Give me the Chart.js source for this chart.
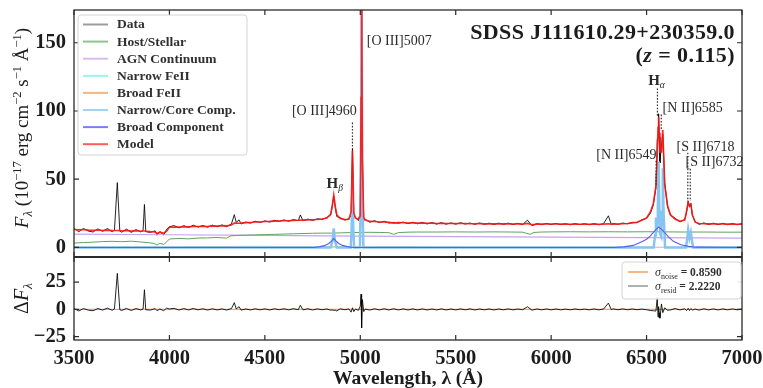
<!DOCTYPE html>
<html>
<head>
<meta charset="utf-8">
<script src="https://cdn.jsdelivr.net/npm/chart.js@4.4.0/dist/chart.umd.min.js"></script>
<style>
    html, body { margin: 0; padding: 0; background: #fff; }
    #spec { display: block; }
</style>
</head>
<body>
<canvas id="spec" width="763" height="388"></canvas>
<script>
// spectrum grid shared by data, model and residuals (Angstrom)
const specWave = [
    3500, 3525, 3550, 3575, 3600, 3625, 3650, 3675, 3700, 3712,
    3727, 3740, 3750, 3775, 3800, 3825, 3850, 3862, 3869, 3876,
    3900, 3925, 3935, 3950, 3970, 3985, 4000, 4025, 4050, 4075,
    4100, 4125, 4150, 4175, 4200, 4225, 4250, 4275, 4300, 4325,
    4340, 4350, 4365, 4375, 4400, 4425, 4450, 4475, 4500, 4525,
    4550, 4575, 4600, 4625, 4650, 4675, 4686, 4700, 4725, 4750,
    4775, 4800, 4825, 4845, 4853, 4861, 4869, 4877, 4895, 4920,
    4940, 4952, 4959, 4966, 4975, 4990, 5000, 5004, 5007, 5011,
    5018, 5025, 5050, 5075, 5100, 5125, 5150, 5175, 5200, 5225,
    5250, 5275, 5300, 5325, 5350, 5375, 5400, 5425, 5450, 5475,
    5500, 5525, 5550, 5575, 5600, 5625, 5650, 5675, 5700, 5725,
    5750, 5775, 5800, 5825, 5850, 5876, 5900, 5925, 5950, 5975,
    6000, 6025, 6050, 6075, 6100, 6125, 6150, 6175, 6200, 6225,
    6250, 6275, 6300, 6315, 6325, 6350, 6375, 6400, 6425, 6450,
    6475, 6500, 6520, 6535, 6549, 6556, 6560, 6563, 6566, 6570,
    6578, 6585, 6595, 6610, 6625, 6650, 6675, 6700, 6710, 6718,
    6725, 6732, 6740, 6755, 6775, 6800, 6825, 6850, 6875, 6900,
    6925, 6950, 6975, 7000
];

const fluxData = [
    14.0, 11.5, 13.9, 12.0, 11.3, 13.6, 11.8, 13.9, 11.5, 12.9,
    47.5, 12.0, 11.2, 13.4, 11.0, 13.1, 11.4, 12.5, 31.5, 11.6,
    11.0, 12.2, 9.0, 11.6, 9.2, 13.2, 15.2, 16.0, 14.3, 16.0,
    14.6, 16.3, 14.9, 16.1, 14.8, 16.4, 15.1, 16.5, 15.2, 17.3,
    24.0, 18.4, 20.2, 17.2, 18.6, 17.8, 19.2, 18.3, 19.5, 18.6,
    19.9, 19.1, 20.2, 19.2, 20.5, 19.6, 23.8, 19.6, 20.8, 19.8,
    21.0, 20.5, 21.9, 23.8, 30.0, 37.6, 29.2, 22.6, 21.8, 20.1,
    21.1, 23.5, 72.5, 23.5, 21.9, 19.7, 26.0, 124, 181, 71,
    20.0, 20.6, 18.5, 19.6, 18.2, 19.2, 17.9, 18.4, 17.7, 18.6,
    17.4, 18.5, 17.3, 18.4, 17.2, 18.2, 17.1, 18.2, 17.0, 18.0,
    17.0, 18.1, 17.1, 17.9, 16.9, 17.9, 16.9, 17.8, 16.8, 17.8,
    16.9, 17.8, 16.8, 17.7, 16.8, 20.0, 15.9, 17.5, 16.7, 17.6,
    16.8, 17.6, 16.7, 17.4, 16.6, 17.5, 16.7, 17.4, 16.6, 17.5,
    16.6, 17.5, 23.2, 16.9, 17.6, 16.9, 17.9, 17.3, 18.4, 18.1,
    20.3, 21.3, 25.0, 31.0, 43.5, 79.0, 81.0, 98.0, 81.0, 62.0,
    75.0, 83.0, 47.5, 29.7, 23.5, 21.4, 18.7, 20.6, 26.0, 34.0,
    29.5, 32.3, 23.4, 18.8, 16.9, 18.0, 16.8, 17.8, 16.7, 17.7,
    16.7, 17.6, 16.6, 17.5
];

const fluxModel = [
    13.2, 12.9, 13.1, 12.7, 12.5, 12.8, 12.4, 12.7, 12.3, 12.4,
    12.4, 12.3, 12.1, 12.5, 12.0, 12.3, 11.9, 12.1, 12.0, 11.9,
    11.6, 11.4, 10.2, 11.2, 10.4, 12.0, 14.8, 15.0, 14.9, 15.2,
    15.1, 15.4, 15.3, 15.5, 15.4, 15.8, 15.6, 16.0, 15.8, 16.5,
    17.8, 17.9, 17.7, 17.8, 18.2, 18.3, 18.6, 18.7, 19.0, 19.1,
    19.3, 19.4, 19.6, 19.6, 19.8, 19.9, 20.0, 20.0, 20.2, 20.3,
    20.5, 20.8, 21.5, 24.5, 30.5, 38.5, 30.0, 24.0, 21.2, 20.4,
    20.6, 26.0, 71.0, 25.5, 21.5, 20.6, 23.0, 110, 198, 62,
    22.0, 20.3, 19.1, 19.0, 18.7, 18.6, 18.4, 17.8, 18.2, 18.1,
    17.9, 18.0, 17.8, 17.9, 17.7, 17.8, 17.6, 17.7, 17.5, 17.6,
    17.5, 17.6, 17.5, 17.4, 17.4, 17.5, 17.3, 17.4, 17.3, 17.4,
    17.3, 17.3, 17.2, 17.3, 17.1, 17.6, 16.6, 17.1, 17.1, 17.2,
    17.2, 17.2, 17.1, 17.1, 17.0, 17.1, 17.0, 17.1, 17.0, 17.1,
    17.0, 17.1, 17.4, 17.1, 17.1, 17.2, 17.4, 17.6, 18.0, 18.4,
    20.0, 21.6, 26.0, 32.0, 45.0, 68.0, 88.0, 95.5, 84.0, 70.0,
    70.0, 86.0, 46.0, 30.5, 24.0, 20.6, 19.2, 20.0, 27.0, 33.0,
    30.5, 31.5, 24.0, 18.5, 17.6, 17.4, 17.3, 17.3, 17.2, 17.2,
    17.1, 17.1, 17.0, 17.1
];

const fluxResid = [
    0.8, -1.4, 0.8, -0.7, -1.2, 0.8, -0.6, 1.2, -0.8, 0.5,
    33, -0.3, -0.9, 0.9, -1.0, 0.8, -0.5, 0.4, 18, -0.3,
    -0.6, 0.8, -1.2, 0.4, -1.2, 1.2, 0.4, 1.0, -0.6, 0.8,
    -0.5, 0.9, -0.4, 0.6, -0.6, 0.6, -0.5, 0.5, -0.6, 0.8,
    6.2, 0.5, 2.5, -0.6, 0.4, -0.5, 0.6, -0.4, 0.5, -0.5,
    0.6, -0.3, 0.6, -0.4, 0.7, -0.3, 3.8, -0.4, 0.6, -0.5,
    0.5, -0.3, 0.4, -0.7, -0.5, -0.9, -0.8, -1.4, 0.6, -0.3,
    0.5, -2.5, 1.5, -2.0, 0.4, -0.9, 3.0, 14, -17, 9,
    -2.0, 0.3, -0.6, 0.6, -0.5, 0.6, -0.5, 0.6, -0.5, 0.5,
    -0.5, 0.5, -0.5, 0.5, -0.5, 0.4, -0.5, 0.5, -0.5, 0.4,
    -0.5, 0.5, -0.4, 0.5, -0.5, 0.4, -0.4, 0.4, -0.5, 0.4,
    -0.4, 0.5, -0.4, 0.4, -0.3, 2.4, -0.7, 0.4, -0.4, 0.4,
    -0.4, 0.4, -0.4, 0.3, -0.4, 0.4, -0.3, 0.3, -0.4, 0.4,
    -0.4, 0.4, 5.8, -0.2, 0.5, -0.3, 0.5, -0.3, 0.4, -0.3,
    0.3, -0.3, -1.0, -1.2, -1.5, 11, -7, 2.5, -3, -8,
    5, -3, 1.5, -0.8, -0.5, 0.8, -0.5, 0.6, -1.0, 1.0,
    -1.0, 0.8, -0.6, 0.3, -0.7, 0.6, -0.5, 0.5, -0.5, 0.5,
    -0.4, 0.5, -0.4, 0.4
];

// host galaxy template
const hostWave = [
    3500, 3550, 3600, 3650, 3700, 3750, 3800, 3850, 3890, 3920,
    3935, 3950, 3970, 3985, 4000, 4050, 4100, 4150, 4200, 4250,
    4300, 4320, 4350, 4400, 4450, 4500, 4550, 4600, 4650, 4700,
    4750, 4800, 4850, 4900, 4950, 5000, 5050, 5100, 5150, 5175,
    5200, 5250, 5300, 5400, 5500, 5600, 5700, 5800, 5850, 5890,
    5910, 5950, 6000, 6100, 6200, 6300, 6400, 6500, 6600, 6700,
    6800, 6900, 7000
];
const hostFlux = [
    3.2, 3.6, 3.9, 4.3, 4.5, 4.2, 4.6, 4.0, 3.5, 2.9,
    1.8, 3.0, 2.2, 4.0, 6.2, 6.6, 6.3, 6.9, 7.0, 7.3,
    6.8, 8.5, 8.8, 9.0, 9.2, 9.4, 9.6, 9.8, 10.0, 10.2,
    10.4, 10.5, 10.5, 10.7, 10.9, 11.0, 11.1, 11.0, 10.8, 9.6,
    10.9, 11.2, 11.3, 11.3, 11.4, 11.3, 11.4, 11.3, 11.2, 9.6,
    11.0, 11.3, 11.4, 11.5, 11.4, 11.5, 11.4, 11.5, 11.4, 11.3,
    11.3, 11.2, 11.2
];

// power-law continuum
const agnWave = [3500, 4000, 4500, 5000, 5500, 6000, 6500, 7000];
const agnFlux = [9.8, 9.3, 8.8, 8.3, 7.9, 7.5, 7.2, 6.9];

const feNarrowWave = [3500, 4200, 4400, 4600, 4900, 5200, 5300, 5500, 7000];
const feNarrowFlux = [0, 0.1, 0.2, 0.2, 0.1, 0.2, 0.1, 0, 0];

const feBroadWave = [3500, 4000, 4200, 4400, 4550, 4700, 5000, 5200, 5300, 5500, 6000, 7000];
const feBroadFlux = [0.2, 0.4, 0.6, 0.8, 0.7, 0.5, 0.4, 0.6, 0.5, 0.3, 0.2, 0.1];

const narrowWave = [
    3500, 4845, 4855, 4861, 4867, 4877, 4950, 4955, 4959, 4963,
    4968, 4998, 5003, 5007, 5011, 5016, 6537, 6545, 6549, 6553,
    6556, 6559, 6563, 6567, 6571, 6577, 6581, 6585, 6589, 6597,
    6706, 6712, 6718, 6725, 6732, 6738, 6744, 7000
];
const narrowFlux = [
    0, 0, 5, 14, 5, 0, 0, 15, 50, 15,
    0, 0, 40, 178, 40, 0, 0, 9, 22, 12,
    18, 30, 63, 30, 10, 8, 26, 58, 26, 0,
    0, 5, 13, 7, 11, 5, 0, 0
];

const broadWave = [
    3500, 4760, 4790, 4815, 4835, 4850, 4861, 4872, 4887, 4907,
    4932, 4960, 6330, 6380, 6430, 6460, 6480, 6500, 6520, 6545,
    6563, 6585, 6610, 6640, 6680, 6720, 6760, 7000
];
const broadFlux = [
    0, 0, 0.6, 1.5, 2.9, 4.8, 6.5, 4.8, 2.9, 1.5,
    0.6, 0, 0, 0.4, 1.5, 3.2, 4.5, 6.0, 8.5, 12.5,
    15.0, 12.5, 8.5, 4.5, 2.0, 0.8, 0.2, 0
];

const noiseWave = [3500, 7000];
const noiseFlux = [0, 0];
const sigmaNames = ['noise', 'resid'];
const sigmaValues = ['0.8590', '2.2220'];

// emission line markers: label anchor, dotted guide
const lineNames = ['[O III]5007', '[O III]4960', 'H', 'H', '[N II]6585', '[N II]6549', '[S II]6718', '[S II]6732'];
const lineSubs = ['', '', '\u03b2', '\u03b1', '', '', '', ''];
const labelWave = [5034, 4982, 4866, 6552, 6584, 6552, 6657, 6704];
const labelFlux = [152, 100, 46.5, 122.5, 102.6, 68, 73.8, 62.7];
const labelAlign = ['left', 'right', 'center', 'center', 'left', 'right', 'left', 'left'];
const guideWave = [null, 4959, null, 6557, 6577, 6550, 6716, 6729];
const guideTop = [null, 91.5, null, 116.5, 97.4, 63.5, 69.4, 57.6];
const guideBottom = [null, 72.3, null, 96, 85.6, 45, 34, 34];

const titleLines = ['SDSS J111610.29+230359.0', '0.115'];

const topTicks = [0, 50, 100, 150];
const residTicks = [-25, 0, 25];

const SERIF = '"Liberation Serif", "DejaVu Serif", serif';
const INK = '#1c1c1c';

function pts(wave, flux) {
    return wave.map((w, i) => ({ x: w, y: flux[i] }));
}

function font(size, weight, style) {
    return `${style || 'normal'} ${weight || 'normal'} ${size}px ${SERIF}`;
}

// draws runs of text with their own font and baseline shift
function richText(ctx, parts, x, y, angle, align, spacing) {
    ctx.save();
    ctx.translate(x, y);
    ctx.rotate(angle || 0);
    ctx.letterSpacing = (spacing || 0) + 'px';
    let w = 0;
    parts.forEach(p => { ctx.font = p[1]; w += ctx.measureText(p[0]).width; });
    let cx = align === 'center' ? -w / 2 : align === 'right' ? -w : 0;
    ctx.textAlign = 'left';
    ctx.textBaseline = 'alphabetic';
    parts.forEach(p => {
        ctx.font = p[1];
        ctx.fillText(p[0], cx, p[2] || 0);
        cx += ctx.measureText(p[0]).width;
    });
    ctx.restore();
}

const series = [
    { label: 'Data', wave: specWave, flux: fluxData, color: 'rgba(0,0,0,0.85)', key: '#9c9c9c', width: 1, order: 9 },
    { label: 'Host/Stellar', wave: hostWave, flux: hostFlux, color: '#5ea35e', key: '#8cc48c', width: 1, order: 6 },
    { label: 'AGN Continuum', wave: agnWave, flux: agnFlux, color: '#c7a2f2', key: '#d7bbf6', width: 1.2, order: 6 },
    { label: 'Narrow FeII', wave: feNarrowWave, flux: feNarrowFlux, color: '#84eeee', key: '#9af2f2', width: 1, order: 7 },
    { label: 'Broad FeII', wave: feBroadWave, flux: feBroadFlux, color: '#f4a46a', key: '#f6b486', width: 1, order: 7 },
    { label: 'Narrow/Core Comp.', wave: narrowWave, flux: narrowFlux, color: '#86c5f0', key: '#a3d3f3', width: 2.5, order: 5 },
    { label: 'Broad Component', wave: broadWave, flux: broadFlux, color: '#5a5cf0', key: '#7c7ef2', width: 1.1, order: 4 },
    { label: 'Model', wave: specWave, flux: fluxModel, color: 'rgba(255,20,20,0.9)', key: '#ff5c5c', width: 1.6, order: 1 }
];

const datasets = series.map(s => ({
    label: s.label,
    data: pts(s.wave, s.flux),
    borderColor: s.color,
    borderWidth: s.width,
    order: s.order,
    yAxisID: 'y'
}));
datasets.push({
    label: 'noise', data: pts(noiseWave, noiseFlux), borderColor: '#f4a46a',
    borderWidth: 1.2, order: 3, yAxisID: 'y2'
});
datasets.push({
    label: 'resid', data: pts(specWave, fluxResid), borderColor: 'rgba(0,0,0,0.85)',
    borderWidth: 1, order: 2, yAxisID: 'y2'
});

const decor = {
    id: 'decor',
    afterDatasetsDraw(chart) {
        const ctx = chart.ctx;
        const xs = chart.scales.x, ys = chart.scales.y;
        ctx.save();
        ctx.strokeStyle = '#333';
        ctx.lineWidth = 1.2;
        ctx.setLineDash([1.6, 1.6]);
        guideWave.forEach((w, i) => {
            if (w === null) return;
            const px = xs.getPixelForValue(w);
            ctx.beginPath();
            ctx.moveTo(px, ys.getPixelForValue(guideTop[i]));
            ctx.lineTo(px, ys.getPixelForValue(guideBottom[i]));
            ctx.stroke();
        });
        ctx.setLineDash([]);
        ctx.fillStyle = '#2a2a2a';
        lineNames.forEach((name, i) => {
            const px = xs.getPixelForValue(labelWave[i]);
            const py = ys.getPixelForValue(labelFlux[i]);
            const parts = [[name, font(14)]];
            if (lineSubs[i]) {
                parts[0][1] = font(15, 'bold');
                parts.push([lineSubs[i], font(9.5, 'normal', 'italic'), 3]);
            }
            richText(ctx, parts, px, py + 4.5, 0, labelAlign[i]);
        });
        ctx.restore();
    },
    afterDraw(chart) {
        const ctx = chart.ctx;
        const xs = chart.scales.x, ys = chart.scales.y, yr = chart.scales.y2;
        const L = chart.chartArea.left, R = chart.chartArea.right;
        const T = ys.top, M = ys.bottom, B = yr.bottom;
        ctx.save();

        // frame and inward ticks
        ctx.strokeStyle = '#2b2b2b';
        ctx.lineWidth = 1.3;
        ctx.strokeRect(L, T, R - L, B - T);
        ctx.lineWidth = 2;
        ctx.beginPath(); ctx.moveTo(L, M); ctx.lineTo(R, M); ctx.stroke();
        ctx.lineWidth = 1.2;
        ctx.beginPath();
        xs.ticks.forEach(t => {
            const px = xs.getPixelForValue(t.value);
            ctx.moveTo(px, T); ctx.lineTo(px, T + 5);
            ctx.moveTo(px, M - 5); ctx.lineTo(px, M + 5);
            ctx.moveTo(px, B); ctx.lineTo(px, B - 5);
        });
        [ys, yr].forEach(s => {
            s.ticks.forEach(t => {
                const py = s.getPixelForValue(t.value);
                ctx.moveTo(L, py); ctx.lineTo(L + 5, py);
                ctx.moveTo(R, py); ctx.lineTo(R - 5, py);
            });
        });
        ctx.stroke();

        // component legend
        const lx = 78, ly = 15;
        ctx.fillStyle = 'rgba(255,255,255,0.85)';
        ctx.strokeStyle = '#d4d4d4';
        ctx.lineWidth = 1;
        ctx.beginPath();
        ctx.roundRect(lx, ly, 169, 140, 3);
        ctx.fill(); ctx.stroke();
        series.forEach((s, i) => {
            const ry = 24.5 + i * 17.1;
            ctx.strokeStyle = s.key;
            ctx.lineWidth = 2;
            ctx.beginPath(); ctx.moveTo(83, ry); ctx.lineTo(108, ry); ctx.stroke();
            ctx.fillStyle = '#303030';
            ctx.font = font(13.5, 'bold');
            ctx.textBaseline = 'middle';
            ctx.fillText(s.label, 117, ry + 0.5);
        });

        // residual legend
        ctx.fillStyle = 'rgba(255,255,255,0.9)';
        ctx.strokeStyle = '#d4d4d4';
        ctx.lineWidth = 1;
        ctx.beginPath();
        ctx.roundRect(622, 262, 119, 37, 3);
        ctx.fill(); ctx.stroke();
        const keyColors = ['#f4a46a', '#9c9c9c'];
        sigmaNames.forEach((n, i) => {
            const ry = 272 + i * 14;
            ctx.strokeStyle = keyColors[i];
            ctx.lineWidth = 1.6;
            ctx.beginPath(); ctx.moveTo(628, ry); ctx.lineTo(648, ry); ctx.stroke();
            ctx.fillStyle = '#303030';
            richText(ctx, [
                ['\u03c3', font(12, 'normal', 'italic')],
                [n, font(8), 2.5],
                [' = ' + sigmaValues[i], font(11.5, 'bold')]
            ], 655, ry + 4, 0, 'left');
        });

        // object name and redshift
        ctx.fillStyle = INK;
        richText(ctx, [[titleLines[0], font(22, 'bold')]], 735, 39, 0, 'right', 0.4);
        richText(ctx, [
            ['(', font(22, 'bold')],
            ['z', font(22, 'bold', 'italic')],
            [' = ' + titleLines[1] + ')', font(22, 'bold')]
        ], 735, 62, 0, 'right', 0.4);

        // axis titles
        richText(ctx, [
            ['F', font(19, 'normal', 'italic')],
            ['\u03bb', font(13, 'normal', 'italic'), 4],
            [' (10', font(19)],
            ['\u221217', font(12.5), -7],
            [' erg cm', font(19)],
            ['\u22122', font(12.5), -7],
            [' s', font(19)],
            ['\u22121', font(12.5), -7],
            [' \u00c5', font(19)],
            ['\u22121', font(12.5), -7],
            [')', font(19)]
        ], 28, 128, -Math.PI / 2, 'center');
        richText(ctx, [
            ['\u0394', font(20)],
            ['F', font(20, 'normal', 'italic')],
            ['\u03bb', font(13.5, 'normal', 'italic'), 4]
        ], 28, (M + B) / 2, -Math.PI / 2, 'center');
        richText(ctx, [['Wavelength, \u03bb (\u00c5)', font(19.5, 'bold')]], (L + R) / 2, 384, 0, 'center');
        ctx.restore();
    }
};

const tickFont = { family: SERIF, size: 20.5, weight: 'bold' };
const minus = v => (v < 0 ? '\u2212' + Math.abs(v) : String(v));
const keepTicks = list => s => { s.ticks = list.map(v => ({ value: v })); };
// fixed axis band sizes; tick labels must not push the plot area in
const fixWidth = s => { s.width = 74; s.paddingTop = 0; s.paddingBottom = 0; };
const fixHeight = s => { s.height = 48; s.paddingLeft = 0; s.paddingRight = 0; };

new Chart(document.getElementById('spec'), {
    type: 'line',
    data: { datasets: datasets },
    options: {
        responsive: false,
        animation: false,
        layout: { padding: { top: 10, right: 21, left: 0, bottom: 0 } },
        elements: { point: { radius: 0 }, line: { tension: 0 } },
        plugins: { legend: { display: false }, tooltip: { enabled: false } },
        scales: {
            x: {
                type: 'linear', min: 3500, max: 7000,
                ticks: { stepSize: 500, font: tickFont, color: INK, padding: 6, maxRotation: 0, autoSkip: false, callback: v => String(v) },
                grid: { display: false, drawTicks: false },
                border: { display: false },
                afterFit: fixHeight
            },
            // listed first so the stacked layout puts it under the spectrum panel
            y2: {
                type: 'linear', position: 'left', stack: 'panels', stackWeight: 83,
                min: -28, max: 48,
                afterBuildTicks: keepTicks(residTicks),
                ticks: { font: tickFont, color: INK, padding: 8, autoSkip: false, callback: minus },
                grid: { display: false, drawTicks: false },
                border: { display: false },
                afterFit: fixWidth
            },
            y: {
                type: 'linear', position: 'left', stack: 'panels', stackWeight: 247,
                min: -7, max: 174,
                afterBuildTicks: keepTicks(topTicks),
                ticks: { font: tickFont, color: INK, padding: 8, autoSkip: false, callback: minus },
                grid: { display: false, drawTicks: false },
                border: { display: false },
                afterFit: fixWidth
            }
        }
    },
    plugins: [decor]
});
</script>
</body>
</html>
